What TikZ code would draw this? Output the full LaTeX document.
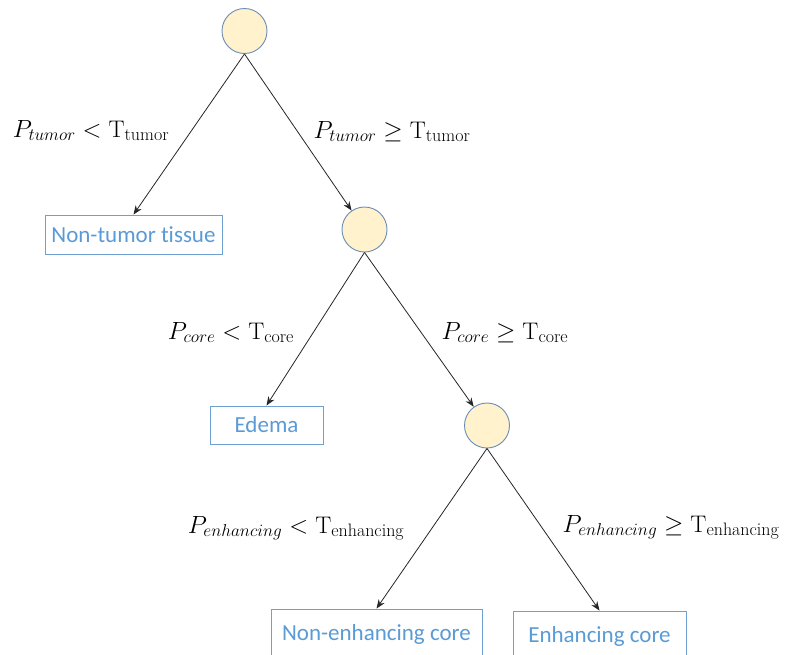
\documentclass[tikz,border=0pt]{standalone}
\usepackage{fontspec}
\newfontfamily\boxfont[Ligatures=NoCommon]{Carlito}
\DeclareMathSizes{24}{24}{18}{14}
\usetikzlibrary{arrows.meta}
\definecolor{circfill}{RGB}{255,242,204}
\definecolor{circline}{RGB}{108,142,180}
\definecolor{boxline}{RGB}{110,160,210}
\definecolor{boxtext}{RGB}{91,155,213}
\tikzset{
  dnode/.style={circle,draw=circline,fill=circfill,line width=0.9pt,minimum size=45pt,inner sep=0pt},
  leaf/.style={rectangle,draw=boxline,line width=0.9pt,inner sep=0pt,text=boxtext,font=\boxfont\fontsize{23}{27}\selectfont},
  edge/.style={draw=black!85,line width=0.8pt,-{Stealth[length=9pt,width=7pt]}},
  cond/.style={anchor=base,inner sep=0pt,font=\fontsize{24}{28}\selectfont}
}
\begin{document}
\begin{tikzpicture}[x=1pt,y=-1pt]
\clip (0,0) rectangle (788,654);
\fill[white] (0,0) rectangle (788,654);
\node[dnode] (c1) at (244.5,31) {};
\node[dnode] (c2) at (364.5,229.5) {};
\node[dnode] (c3) at (487,425.5) {};
\node[leaf,minimum width=177pt,minimum height=39pt] (b1) at (133.5,234.5) {Non-tumor tissue};
\node[leaf,minimum width=113pt,minimum height=38pt] (b2) at (266.5,425) {Edema};
\node[leaf,minimum width=211pt,minimum height=50pt] (b3) at (376.5,634) {Non-enhancing core};
\node[leaf,minimum width=173pt,minimum height=50pt] (b4) at (599.5,636) {Enhancing core};
\draw[edge] (c1.south) -- (b1.north);
\draw[edge] (c1.south) -- (c2);
\draw[edge] (c2.south) -- (b2.north);
\draw[edge] (c2.south) -- (c3);
\draw[edge] (c3.south) -- (b3.north);
\draw[edge] (c3.south) -- (b4.north);
\node[cond] (l1) at (91,137) {$P_{tumor} < \mathrm{T}_{\mathrm{tumor}}$};
\node[cond] (l2) at (392,138) {$P_{tumor} \geq \mathrm{T}_{\mathrm{tumor}}$};
\node[cond] (l3) at (231,339) {$P_{core} < \mathrm{T}_{\mathrm{core}}$};
\node[cond] (l4) at (505,339) {$P_{core} \geq \mathrm{T}_{\mathrm{core}}$};
\node[cond] (l5) at (296,533) {$P_{enhancing} < \mathrm{T}_{\mathrm{enhancing}}$};
\node[cond] (l6) at (671,532) {$P_{enhancing} \geq \mathrm{T}_{\mathrm{enhancing}}$};
\end{tikzpicture}
\end{document}
